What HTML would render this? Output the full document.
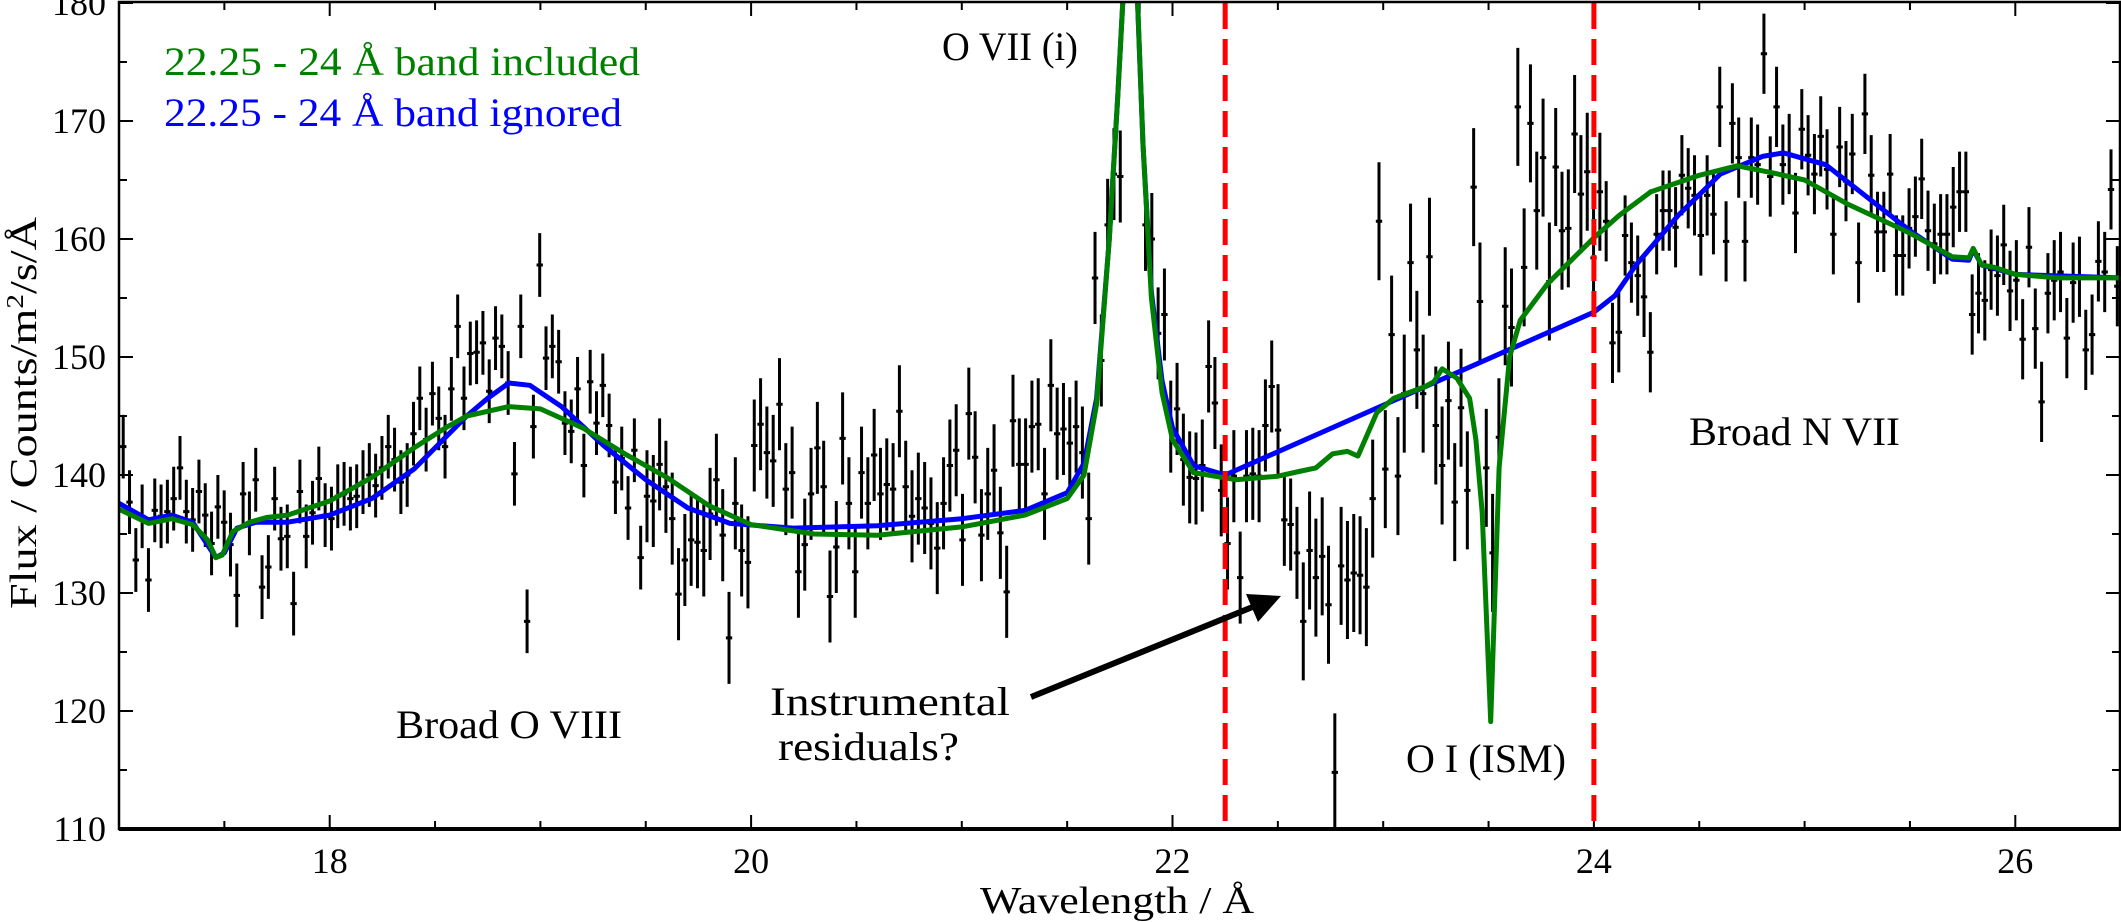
<!DOCTYPE html>
<html><head><meta charset="utf-8"><style>
html,body{margin:0;padding:0;background:#fff;}
svg{display:block;}
text{font-family:"Liberation Serif","DejaVu Serif",serif;}
</style></head>
<body>
<svg id="chart" width="2121" height="922" viewBox="0 0 2121 922" xmlns="http://www.w3.org/2000/svg">
<defs><clipPath id="plotclip"><rect x="119" y="3" width="2002" height="826"/></clipPath></defs>
<g id="ticks"></g>
<g id="xlabels"></g>
<g id="ylabels"></g>
<g id="data" clip-path="url(#plotclip)"></g>
<g id="models" clip-path="url(#plotclip)"></g>
<g id="bands"></g>
<rect x="119" y="2" width="2001" height="827" fill="none" stroke="#000" stroke-width="2.5"/>
<line x1="119" y1="829" x2="2121" y2="829" stroke="#000" stroke-width="4"/>
<text x="164" y="75" font-size="40" fill="#008000" textLength="476" lengthAdjust="spacingAndGlyphs">22.25 - 24 Å band included</text>
<text x="164" y="126" font-size="40" fill="#0000ff" textLength="458" lengthAdjust="spacingAndGlyphs">22.25 - 24 Å band ignored</text>
<text x="942" y="60" font-size="40" fill="#000" textLength="136" lengthAdjust="spacingAndGlyphs">O VII (i)</text>
<text x="396" y="738" font-size="40" fill="#000" textLength="226" lengthAdjust="spacingAndGlyphs">Broad O VIII</text>
<text x="770" y="715" font-size="40" fill="#000" textLength="240" lengthAdjust="spacingAndGlyphs">Instrumental</text>
<text x="778" y="760" font-size="40" fill="#000" textLength="181" lengthAdjust="spacingAndGlyphs">residuals?</text>
<text x="1406" y="772" font-size="40" fill="#000" textLength="160" lengthAdjust="spacingAndGlyphs">O I (ISM)</text>
<text x="1689" y="445" font-size="40" fill="#000" textLength="211" lengthAdjust="spacingAndGlyphs">Broad N VII</text>
<g>
<line x1="1031" y1="697" x2="1255" y2="606" stroke="#000" stroke-width="6"/>
<polygon points="1281,596 1246,594 1258,622" fill="#000"/>
</g>
<text x="1117" y="913" font-size="38" text-anchor="middle" fill="#000" textLength="274" lengthAdjust="spacingAndGlyphs">Wavelength / Å</text>
<text transform="translate(36,413) rotate(-90)" font-size="38" text-anchor="middle" fill="#000" textLength="392" lengthAdjust="spacingAndGlyphs">Flux / Counts/m<tspan baseline-shift="super" font-size="24">2</tspan>/s/Å</text>
</svg>
<script>
// ---- data ----
const binStart = 17.02;
const binWidth = 0.02995;
const flux = [
142.4,137.7,132.8,136.5,131.1,137.0,136.5,136.9,138.0,140.6,136.9,136.2,138.6,136.6,134.2,137.3,136.0,134.1,129.8,138.4,
135.9,139.6,130.5,132.2,138.0,134.6,134.8,129.1,138.6,134.8,136.8,139.7,136.6,136.3,138.2,138.4,138.0,138.2,139.4,140.0,
139.1,140.6,142.4,141.3,139.4,140.0,143.5,146.5,143.0,146.9,144.8,142.4,147.3,152.6,146.5,150.3,150.4,151.2,147.1,151.6,
150.9,147.8,140.1,152.6,127.6,144.1,157.8,149.9,150.9,149.6,144.4,143.7,147.3,140.8,147.9,144.4,147.6,144.2,139.4,141.4,
137.2,142.1,
133.0,138.2,137.8,140.9,139.0,136.3,129.9,132.8,134.5,134.3,133.6,136.7,139.6,134.9,126.2,137.6,133.6,132.6,142.5,144.3,
141.9,141.2,146.0,138.8,140.2,131.8,134.1,138.4,142.3,139.0,129.7,133.9,143.1,137.6,131.8,140.2,137.6,141.7,138.4,139.2,
138.8,145.4,139.0,136.5,138.0,137.2,135.9,133.8,137.6,140.8,142.1,134.5,145.2,141.5,134.9,138.4,140.4,135.1,130.1,144.6,
140.9,140.9,144.1,144.3,138.4,147.6,143.5,143.9,142.7,144.1,141.9,136.3,156.7,149.7,161.2,165.5,165.3,185.0,190.0,183.0,
161.2,160.0,152.0,153.6,144.1,145.6,141.3,139.8,
139.7,140.8,149.2,146.1,138.7,134.2,139.9,131.3,139.9,140.1,139.9,144.2,147.5,143.8,136.2,135.8,133.4,127.6,133.6,131.3,
133.1,129.0,114.8,132.3,131.1,131.7,131.5,130.5,138.0,161.5,140.5,151.9,139.9,146.9,158.0,150.6,146.9,158.5,144.2,140.8,
146.3,137.7,145.7,138.7,164.4,154.7,140.6,133.4,143.2,154.3,152.5,171.2,157.6,169.8,162.4,166.9,156.4,166.1,160.7,160.9,
168.9,163.8,165.7,158.4,164.0,161.5,151.2,152.1,
160.3,158.0,156.9,155.1,150.4,160.4,162.4,162.4,161.0,165.4,164.3,163.7,160.3,163.7,162.1,171.2,159.8,169.8,166.9,159.8,
166.9,166.3,175.7,165.3,171.2,166.3,167.2,162.2,169.3,167.1,165.5,168.7,165.9,160.4,167.8,164.9,167.2,158.0,170.6,165.4,
160.6,160.6,165.5,158.6,158.6,160.9,161.9,165.1,160.7,159.6,160.4,160.4,162.7,164.0,164.0,153.6,155.4,154.8,157.4,156.9,
159.5,155.6,156.5,151.5,159.3,152.4,146.2,155.4,156.5,157.2,151.6,156.3,156.8,150.6,151.9,158.1,157.2,164.2,156.0
];
const errStartWave = [17.0, 19.5, 22.6, 24.05];
const errHalf = [2.7, 3.9, 5.0, 3.4];

const greenWave = [17.0,17.14,17.25,17.35,17.42,17.46,17.49,17.54,17.62,17.7,17.8,18.0,18.2,18.4,18.55,18.65,18.85,19.0,19.2,19.4,19.6,19.8,20.0,20.3,20.6,21.0,21.3,21.5,21.58,21.64,21.7,21.74,21.77,21.8,21.83,21.86,21.9,21.95,22.0,22.1,22.3,22.5,22.6,22.68,22.76,22.83,22.88,22.97,23.05,23.2,23.24,23.28,23.35,23.41,23.44,23.47,23.51,23.55,23.6,23.65,23.78,24.0,24.12,24.27,24.5,24.68,24.85,25.0,25.2,25.5,25.7,25.78,25.8,25.84,25.9,26.0,26.2,26.5];
const greenFlux = [137.1,135.9,136.3,135.8,134.5,133.0,133.2,135.2,136.0,136.4,136.6,137.8,139.8,142.3,144.0,145.0,145.8,145.6,144.0,141.8,139.8,137.4,135.8,135.0,134.9,135.6,136.6,138.0,140.0,146.0,160.0,172.0,182.0,200.0,182.0,168.0,155.0,147.0,143.0,140.2,139.6,139.9,140.3,140.6,141.8,142.0,141.6,145.3,146.5,147.5,147.9,149.0,148.2,146.5,143.0,136.8,119.1,140.6,150.0,153.1,156.2,160.1,162.0,164.0,165.4,166.2,165.6,165.0,163.0,160.5,158.5,158.4,159.2,157.8,157.6,157.0,156.7,156.7];
const blueWave = [17.0,17.14,17.25,17.35,17.46,17.5,17.56,17.65,17.8,18.0,18.2,18.4,18.55,18.65,18.75,18.85,18.95,19.1,19.3,19.5,19.7,19.9,20.2,20.6,21.0,21.3,21.5,21.58,21.64,21.7,21.74,21.77,21.8,21.83,21.86,21.9,21.95,22.0,22.1,22.25,24.0,24.1,24.2,24.4,24.6,24.8,24.9,25.0,25.1,25.3,25.5,25.7,25.78,25.8,25.84,26.0,26.5];
const blueFlux = [137.6,136.2,136.6,136.0,133.0,133.4,135.5,136.0,136.0,136.6,138.0,140.5,143.2,145.0,146.5,147.8,147.6,145.8,142.5,139.6,137.2,135.9,135.5,135.7,136.3,137.0,138.5,141.0,146.5,160.0,172.0,182.0,200.0,182.0,168.0,155.5,148.0,144.0,140.8,140.0,153.8,155.2,157.8,162.0,165.5,167.0,167.3,166.8,166.3,163.5,160.7,158.3,158.2,159.1,157.8,157.0,156.7];

const bandEdges = [22.25, 24.0];
const xTickValues = [18, 20, 22, 24, 26];
const yTickValues = [110, 120, 130, 140, 150, 160, 170, 180];

// ---- axes ----
const X0 = 119, PXA = 210.7, Y0 = 829, PYU = 11.8;
function xs(l){ return X0 + (l - 17) * PXA; }
function ys(v){ return Y0 - (v - 110) * PYU; }
const NS = 'http://www.w3.org/2000/svg';
function mk(tag, attrs, parent){ const e = document.createElementNS(NS, tag); for (const k in attrs) e.setAttribute(k, attrs[k]); parent.appendChild(e); return e; }

// ticks
const tg = document.getElementById('ticks');
for (let l = 17; l <= 26.5001; l += 0.5) {
  const major = Math.abs(l - Math.round(l)) < 1e-6 && Math.round(l) % 2 === 0;
  const len = major ? 14 : 8;
  const t1 = mk('line', {x1: xs(l), x2: xs(l), y1: 829, y2: 829 - len, stroke: '#000', 'stroke-width': 2}, tg);
  
  
  const t2 = mk('line', {x1: xs(l), x2: xs(l), y1: 2, y2: 2 + len, stroke: '#000', 'stroke-width': 2}, tg);
  
  
}
for (let v = 110; v <= 180; v += 5) {
  const len = v % 10 === 0 ? 14 : 8;
  const t1 = mk('line', {x1: 119, x2: 119 + len, y1: ys(v), y2: ys(v), stroke: '#000', 'stroke-width': 2}, tg);
  
  
  const t2 = mk('line', {x1: 2120, x2: 2120 - len, y1: ys(v), y2: ys(v), stroke: '#000', 'stroke-width': 2}, tg);
  
  
}
const xl = document.getElementById('xlabels');
xTickValues.forEach(v => {
  const t = mk('text', {x: xs(v), y: 873, 'font-size': 36, 'text-anchor': 'middle', fill: '#000'}, xl);
  
  
  t.textContent = v;
});
const yl = document.getElementById('ylabels');
yTickValues.forEach(v => {
  const t = mk('text', {x: 106, y: ys(v) + 12, 'font-size': 36, 'text-anchor': 'end', fill: '#000'}, yl);
  
  
  t.textContent = v;
});

// data points
const dg = document.getElementById('data');
function errFor(l){ let e = errHalf[0]; for (let i = 0; i < errStartWave.length; i++) if (l >= errStartWave[i]) e = errHalf[i]; return e; }
flux.forEach((v, i) => {
  const l = binStart + i * binWidth;
  const e = errFor(l);
  const x = xs(l);
  const hw = binWidth * PXA / 2;
  const p = mk('path', {d: `M${x},${ys(v + e)}V${ys(v - e)}M${x - hw},${ys(v)}H${x + hw}`, stroke: '#000', 'stroke-width': 3, fill: 'none'}, dg);
  
  
});

// models
const mg = document.getElementById('models');
function linePath(w, f){ return w.map((l, i) => (i ? 'L' : 'M') + xs(l).toFixed(1) + ',' + ys(f[i]).toFixed(1)).join(''); }
const bl = mk('path', {d: linePath(blueWave, blueFlux), stroke: '#0000ff', 'stroke-width': 5, fill: 'none', 'stroke-linejoin': 'round'}, mg);


const gl = mk('path', {d: linePath(greenWave, greenFlux), stroke: '#008000', 'stroke-width': 5, fill: 'none', 'stroke-linejoin': 'round'}, mg);



// band edges
const bg = document.getElementById('bands');
bandEdges.forEach(l => {
  const ln = mk('line', {x1: xs(l), x2: xs(l), y1: 3, y2: 829, stroke: '#ff0000', 'stroke-width': 5, 'stroke-dasharray': '26,10'}, bg);
  
  
});
</script>
</body></html>
